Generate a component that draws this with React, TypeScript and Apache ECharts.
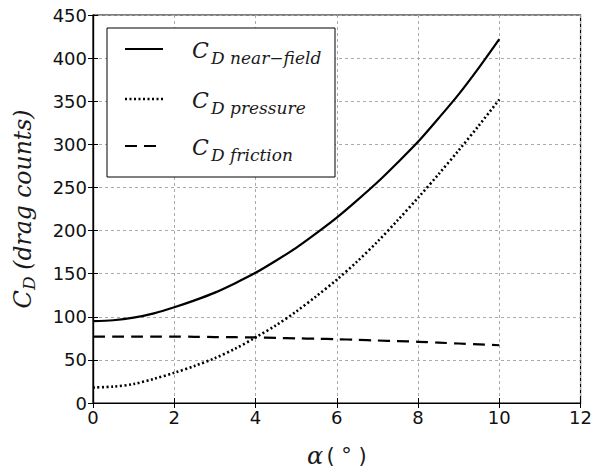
import React, { useEffect, useRef } from "react";
import * as echarts from "echarts";

const alphaDeg = [0, 0.5, 1, 1.5, 2, 2.5, 3, 3.5, 4, 4.5, 5, 5.5, 6, 6.5, 7, 7.5, 8, 8.5, 9, 9.5, 10];
const cdNearField = [95, 96, 99, 104, 111, 119, 128, 139, 151, 165, 180, 197, 215, 235, 256, 279, 303, 330, 358, 389, 422];
const cdPressure = [18, 19, 22, 28, 35, 43, 52, 63, 76, 90, 106, 124, 143, 164, 187, 212, 238, 265, 293, 322, 352];
const cdFriction = [77, 77, 77, 77, 77, 76.8, 76.5, 76.3, 76, 75.5, 75, 74.5, 74, 73.3, 72.5, 71.8, 71, 70, 69, 68, 67];
const xTicks = { min: 0, max: 12, interval: 2 };
const yTicks = { min: 0, max: 450, interval: 50 };
const legendNames = ["D near\u2212field", "D pressure", "D friction"];

const pairs = (ys: number[]) => alphaDeg.map((x, i) => [x, ys[i]]);

export default function App() {
  const ref = useRef<HTMLDivElement>(null);
  useEffect(() => {
    if (!ref.current) return;
    const chart = echarts.init(ref.current, null, { renderer: "svg" });
    const serif = "DejaVu Serif";
    const ink = "#1a1a1a";
    const tickFont = { fontFamily: "DejaVu Sans", fontSize: 18, color: "#111" };
    const gridLine = { show: true, lineStyle: { color: "#aaa", type: [3, 3], width: 1 } };
    const dotted = [2, 2.5];
    const dashed = [12, 7];
    const tick = { show: true, inside: true, length: 5, lineStyle: { color: "#000", width: 1 } };
    const axisLine = { show: true, lineStyle: { color: "#000", width: 1.2 } };
    const mkLegend = (i: number, y: number, lineType: any, width: number) => [
      {
        type: "line",
        z: 11,
        shape: { x1: 125, y1: y, x2: 163, y2: y },
        style: { stroke: "#000", lineWidth: width, lineDash: lineType },
      },
      {
        type: "text",
        z: 11,
        x: 192,
        y: y + 1,
        style: {
          text: "C",
          fontFamily: serif,
          fontStyle: "italic",
          fontSize: 22,
          fill: ink,
          verticalAlign: "middle",
        },
      },
      {
        type: "text",
        z: 11,
        x: 211,
        y: y + 9,
        style: {
          text: legendNames[i],
          fontFamily: serif,
          fontStyle: "italic",
          fontSize: 17,
          fill: ink,
          verticalAlign: "middle",
        },
      },
    ];
    chart.setOption({
      animation: false,
      backgroundColor: "#fff",
      grid: { left: 93, top: 15, right: 12, bottom: 68, show: true, borderColor: "#000", borderWidth: 1.2 },
      xAxis: [
        {
          type: "value",
          ...xTicks,
          position: "bottom",
          axisLine,
          axisTick: tick,
          axisLabel: { ...tickFont, margin: 5 },
          splitLine: gridLine,
          name: "{a|\u03b1} {n|( \u00b0 )}",
          nameLocation: "middle",
          nameGap: 41,
          nameTextStyle: {
            rich: {
              a: { fontFamily: serif, fontStyle: "italic", fontSize: 24, color: ink },
              n: { fontFamily: "DejaVu Sans", fontSize: 21, color: ink },
            },
          },
        },
        {
          type: "value",
          ...xTicks,
          position: "top",
          axisLine,
          axisTick: tick,
          axisLabel: { show: false },
          splitLine: { show: false },
        },
      ],
      yAxis: [
        {
          type: "value",
          ...yTicks,
          position: "left",
          axisLine,
          axisTick: tick,
          axisLabel: { ...tickFont, margin: 6 },
          splitLine: gridLine,
          name: "{c|C}{d|D}  {t|(drag counts)}",
          nameLocation: "middle",
          nameGap: 56,
          nameRotate: 90,
          nameTextStyle: {
            rich: {
              c: { fontFamily: serif, fontStyle: "italic", fontSize: 24, color: ink },
              d: { fontFamily: serif, fontStyle: "italic", fontSize: 17, color: ink, padding: [12, 0, 0, 0] },
              t: { fontFamily: serif, fontStyle: "italic", fontSize: 23.5, color: ink },
            },
          },
        },
        {
          type: "value",
          ...yTicks,
          position: "right",
          axisLine,
          axisTick: tick,
          axisLabel: { show: false },
          splitLine: { show: false },
        },
      ],
      series: [
        {
          name: "near-field",
          type: "line",
          data: pairs(cdNearField),
          smooth: 0.3,
          showSymbol: false,
          lineStyle: { color: "#000", width: 2.2, type: "solid" },
          z: 3,
        },
        {
          name: "pressure",
          type: "line",
          data: pairs(cdPressure),
          smooth: 0.3,
          showSymbol: false,
          lineStyle: { color: "#000", width: 2.6, type: dotted },
          z: 3,
        },
        {
          name: "friction",
          type: "line",
          data: pairs(cdFriction),
          smooth: 0.3,
          showSymbol: false,
          lineStyle: { color: "#000", width: 2.2, type: dashed },
          z: 3,
        },
      ],
      graphic: [
        {
          type: "rect",
          shape: { x: 107, y: 28, width: 228, height: 149 },
          style: { fill: "#fff", stroke: "#000", lineWidth: 1 },
          z: 10,
        },
        ...mkLegend(0, 49, null, 2.2),
        ...mkLegend(1, 99, dotted, 2.6),
        ...mkLegend(2, 146, dashed, 2.2),
      ],
    });
    return () => chart.dispose();
  }, []);
  return <div ref={ref} style={{ width: 595, height: 473, position: "absolute", left: 0, top: 0 }} />;
}
